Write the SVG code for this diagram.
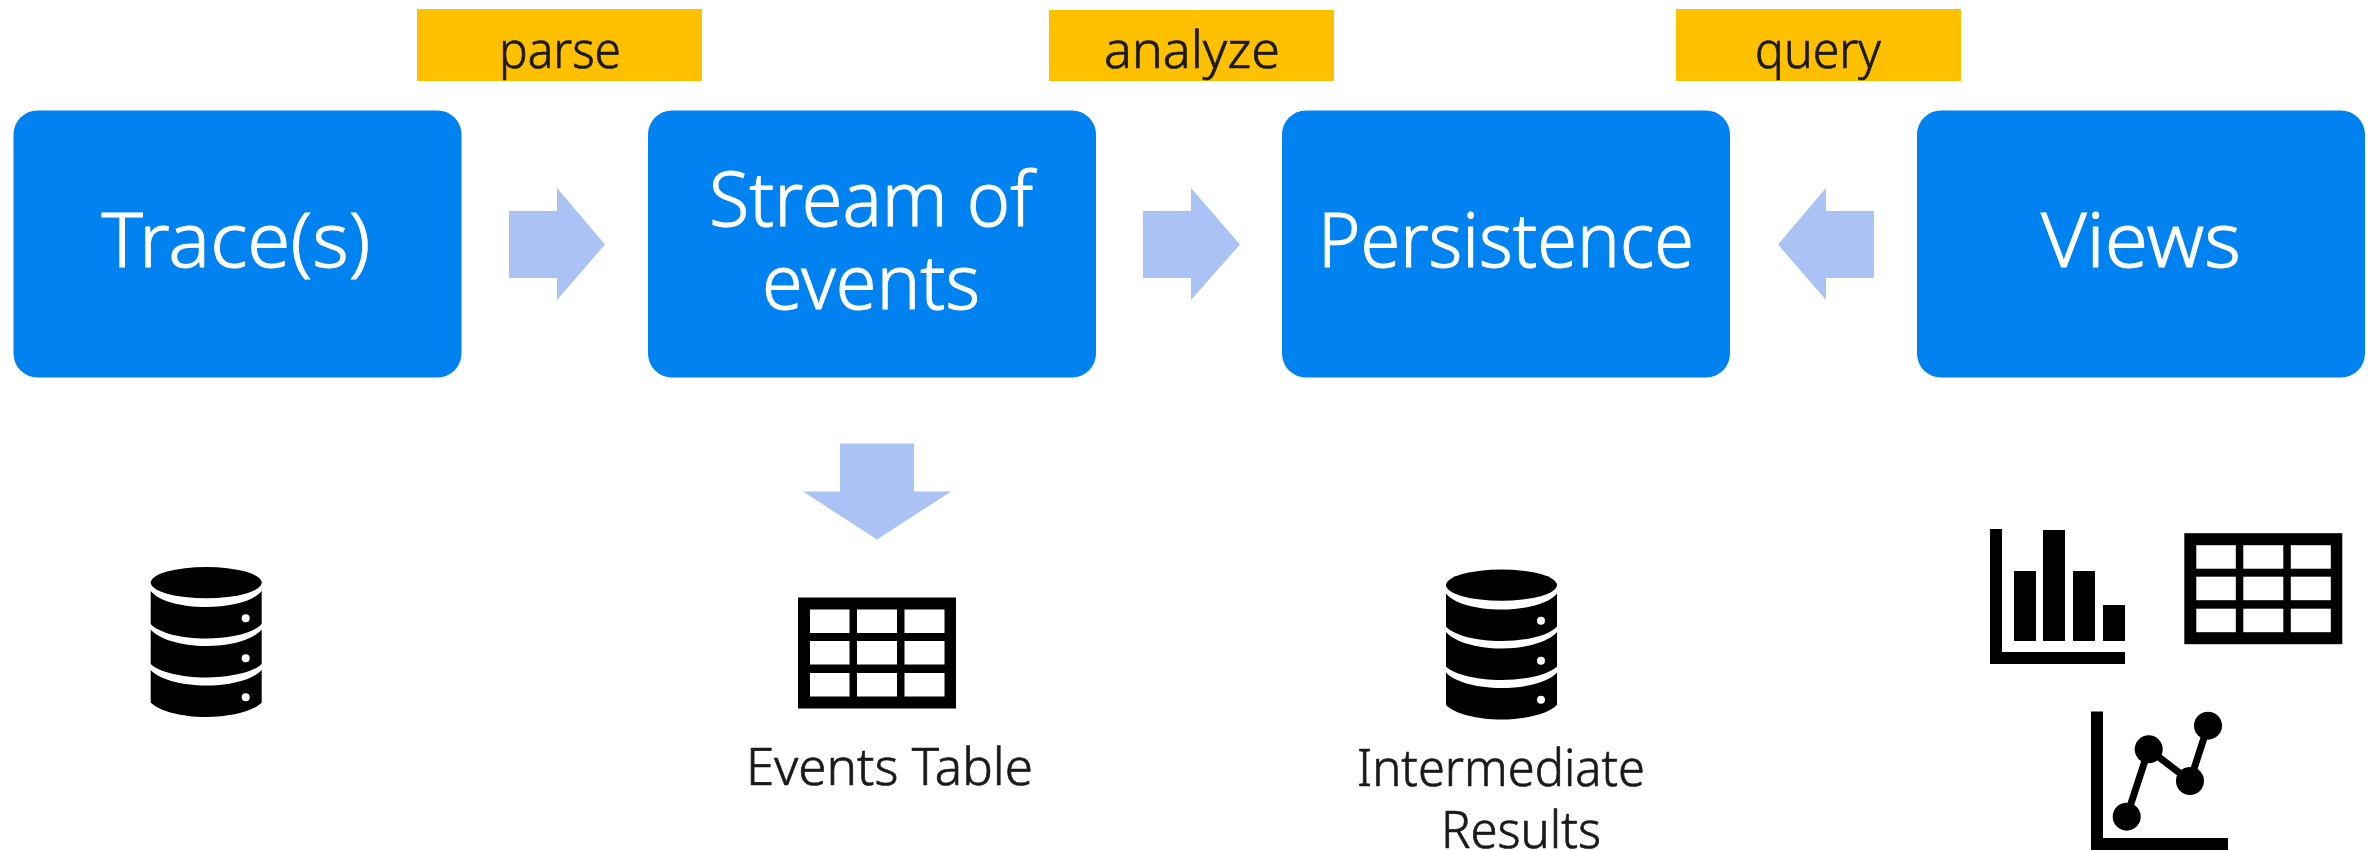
<svg xmlns="http://www.w3.org/2000/svg" width="2374" height="850" viewBox="0 0 2374 850">
<style>
text{font-family:"Noto Sans","Open Sans","Liberation Sans",sans-serif}
.box{fill:#0082f0}
.tag{fill:#ffc000}
.arrow{fill:#abc2f4}
.big{font-size:76px;font-weight:300;fill:#fff;stroke:#fff;stroke-width:1;text-anchor:middle}
.small{font-size:51px;font-weight:300;fill:#1a1a1a;stroke:#1a1a1a;stroke-width:.7}
.ink{fill:#000}
.hole{fill:#fff}
</style>
<defs>
<g id="db">
<ellipse class="ink" cx="55.5" cy="15.6" rx="55.5" ry="15.6"/>
<path class="ink" d="M0 24C8 34 30 40 55.5 40S103 34 111 24V57C103 66 80 71.5 55.5 71.5S8 66 0 57Z"/>
<path class="ink" d="M0 62.5C8 72 30 79 55.5 79S103 72 111 62.5V97C103 105 80 110.5 55.5 110.5S8 105 0 97Z"/>
<path class="ink" d="M0 103C8 112 30 118.500 55.500 118.500S103 112 111 103V135.500C103 144 80 150 55.500 150S8 144 0 135.500Z"/>
<circle class="hole" cx="95" cy="51.300" r="4"/>
<circle class="hole" cx="95" cy="91.300" r="4"/>
<circle class="hole" cx="95" cy="130.300" r="4"/>
</g>
<g id="grid">
<rect class="ink" x="0" y="0" width="158" height="111"/>
<rect class="hole" x="12" y="12" width="39.500" height="23.500"/>
<rect class="hole" x="59" y="12" width="40" height="23.500"/>
<rect class="hole" x="106.500" y="12" width="40" height="23.500"/>
<rect class="hole" x="12" y="43.500" width="39.500" height="23.500"/>
<rect class="hole" x="59" y="43.500" width="40" height="23.500"/>
<rect class="hole" x="106.500" y="43.500" width="40" height="23.500"/>
<rect class="hole" x="12" y="75.500" width="39.500" height="23.500"/>
<rect class="hole" x="59" y="75.500" width="40" height="23.500"/>
<rect class="hole" x="106.500" y="75.500" width="40" height="23.500"/>
</g>
</defs>
<g id="connectors">
<path class="arrow" d="M509 211H557V188L605 244.500L557 300V278H509Z"/>
<path class="arrow" d="M1143 211H1191V188L1240 244.500L1191 300V278H1143Z"/>
<path class="arrow" d="M1874 211H1826V188L1778 244.500L1826 300V278H1874Z"/>
<path class="arrow" d="M840 443.500H914V491.500H951L877 539.500L803 491.500H840Z"/>
</g>
<g id="node-trace"><rect class="box" x="13.500" y="110.500" width="448" height="267" rx="24" ry="24"/><text class="big" x="236" y="267" textLength="269" lengthAdjust="spacingAndGlyphs">Trace(s)</text></g>
<g id="node-stream"><rect class="box" x="648" y="110.500" width="448" height="267" rx="24" ry="24"/><text class="big" x="871" y="226" textLength="324" lengthAdjust="spacingAndGlyphs">Stream of</text><text class="big" x="871" y="309" textLength="218" lengthAdjust="spacingAndGlyphs">events</text></g>
<g id="node-persistence"><rect class="box" x="1282" y="110.500" width="448" height="267" rx="24" ry="24"/><text class="big" x="1506" y="267" textLength="376" lengthAdjust="spacingAndGlyphs">Persistence</text></g>
<g id="node-views"><rect class="box" x="1917" y="110.500" width="448" height="267" rx="24" ry="24"/><text class="big" x="2141" y="267" textLength="200" lengthAdjust="spacingAndGlyphs">Views</text></g>
<g id="tag-parse"><rect class="tag" x="417" y="9" width="285" height="72"/><text class="small" x="499" y="68" textLength="122" lengthAdjust="spacingAndGlyphs">parse</text></g>
<g id="tag-analyze"><rect class="tag" x="1049" y="10" width="285" height="71"/><text class="small" x="1104" y="68" textLength="176" lengthAdjust="spacingAndGlyphs">analyze</text></g>
<g id="tag-query"><rect class="tag" x="1676" y="9" width="285" height="72"/><text class="small" x="1755" y="68" textLength="126" lengthAdjust="spacingAndGlyphs">query</text></g>
<g id="icon-trace-db"><use href="#db" x="150.700" y="567"/></g>
<g id="node-events-table"><use href="#grid" x="798" y="597.500"/><text class="small" x="746" y="785" textLength="287" lengthAdjust="spacingAndGlyphs">Events Table</text></g>
<g id="node-intermediate"><use href="#db" x="1446" y="569.500"/><text class="small" x="1357" y="786" textLength="288" lengthAdjust="spacingAndGlyphs">Intermediate</text><text class="small" x="1441" y="848" textLength="160" lengthAdjust="spacingAndGlyphs">Results</text></g>
<g id="icon-bar-chart">
<path class="ink" d="M1990 529H2002V652H2125V664H1990Z"/>
<rect class="ink" x="2014" y="571" width="22" height="70"/>
<rect class="ink" x="2043" y="530" width="22" height="111"/>
<rect class="ink" x="2073" y="571" width="22" height="70"/>
<rect class="ink" x="2103" y="605" width="22" height="36"/>
</g>
<g id="icon-table"><use href="#grid" x="2184.300" y="533.200"/></g>
<g id="icon-line-chart">
<path class="ink" d="M2091 711.500H2103V838H2228V850H2091Z"/>
<path d="M2126.700 816.700L2148.700 749.300L2190 781L2208 725.700" fill="none" stroke="#000" stroke-width="7"/>
<circle class="ink" cx="2126.700" cy="816.700" r="14"/>
<circle class="ink" cx="2148.700" cy="749.300" r="14"/>
<circle class="ink" cx="2190" cy="781" r="14"/>
<circle class="ink" cx="2208" cy="725.700" r="14"/>
</g>
</svg>
